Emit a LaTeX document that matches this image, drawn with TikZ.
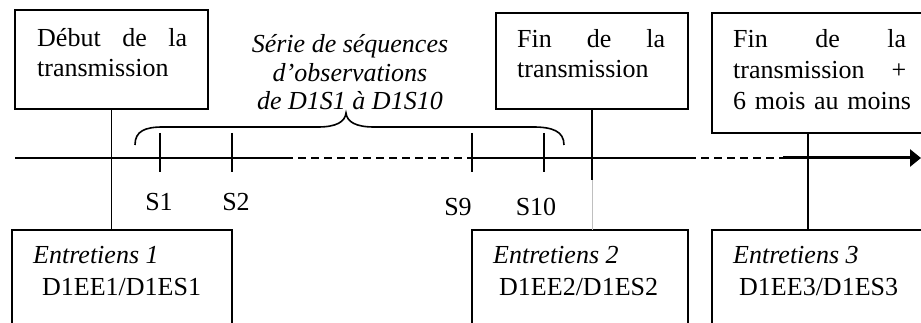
\documentclass[tikz,border=0pt]{standalone}
\usepackage{fontspec}
\setmainfont{Liberation Serif}
\usetikzlibrary{arrows.meta,calc}
\begin{document}
\begin{tikzpicture}[x=1pt,y=-1pt,
  frame/.style={draw,line width=1.6pt,inner sep=0pt,outer sep=0pt,anchor=north west},
  txt/.style={inner sep=0pt,anchor=base west,align=left},
  conn/.style={line width=1.6pt},
  tick/.style={line width=1.6pt},
  dashline/.style={line width=1.6pt,dash pattern=on 8pt off 5pt},
  lbl/.style={inner sep=0pt,anchor=base,font=\fontsize{26}{30}\selectfont}
]
\useasboundingbox (0,0) rectangle (921,323);

% frames
\node[frame,minimum width=193pt,minimum height=99pt] (top1) at (15,10) {};
\node[frame,minimum width=192pt,minimum height=96pt] (top2) at (496,13) {};
\node[frame,minimum width=212pt,minimum height=120pt] (top3) at (712,13) {};
\node[frame,minimum width=220pt,minimum height=100pt] (bot1) at (12,230) {};
\node[frame,minimum width=216pt,minimum height=100pt] (bot2) at (472,230) {};
\node[frame,minimum width=212pt,minimum height=100pt] (bot3) at (712,230) {};

% texts in top boxes
\node[txt,text width=150pt,font=\fontsize{26}{30}\selectfont] (t1) at (37,47) {Début\hfill de\hfill la\\transmission};
\node[txt,text width=148pt,font=\fontsize{26}{30}\selectfont] (t2) at (517,48) {Fin\hfill de\hfill la\\transmission};
\node[txt,text width=173pt,font=\fontsize{26}{31}\selectfont] (t3) at (733,48) {Fin\hfill de\hfill la\\transmission\hfill +\\\mbox{6 mois au moins}};

% series text
\node[inner sep=0pt,anchor=base,align=center,font=\fontsize{26}{28.5}\selectfont\itshape] (serie) at (350,110) {Série de séquences\\d’observations\\de D1S1 à D1S10};

% texts in bottom boxes
\node[txt,font=\fontsize{26}{32}\selectfont] (b1) at (33,295) {\textit{Entretiens 1}\\\hspace*{9pt}D1EE1/D1ES1};
\node[txt,font=\fontsize{26}{32}\selectfont] (b2) at (493,295) {\textit{Entretiens 2}\\\hspace*{6pt}D1EE2/D1ES2};
\node[txt,font=\fontsize{26}{32}\selectfont] (b3) at (733,295) {\textit{Entretiens 3}\\\hspace*{6pt}D1EE3/D1ES3};

% timeline
\coordinate (L0) at (15,158);
\coordinate (La) at (285,158);
\coordinate (Lb) at (472,158);
\coordinate (Lc) at (688,158);
\coordinate (Ld) at (783,158);
\coordinate (Le) at (921,158);
\draw[conn] (L0) -- (La);
\draw[dashline] (La) -- (Lb);
\draw[conn] (Lb) -- (Lc);
\draw[dashline] (Lc) -- (Ld);
\draw[line width=3pt,-{Triangle[length=11pt,width=17pt]}] (Ld) -- (Le);

% ticks
\foreach \n/\x in {s1/160,s2/232,s9/472,s10/544}{
  \coordinate (\n top) at (\x,133);
  \coordinate (\n bot) at (\x,172);
  \draw[tick] (\n top) -- (\n bot);
}
\node[lbl] (S1) at (159,211) {S1};
\node[lbl] (S2) at (236,211) {S2};
\node[lbl] (S9) at (458,215) {S9};
\node[lbl] (S10) at (536,215) {S10};

% brace
\draw[line width=1.6pt] (135,145) .. controls (135,131) and (145,127) .. (163,127)
  -- (318,127) .. controls (336,127) and (345,122) .. (346,113)
  .. controls (347,122) and (356,127) .. (374,127)
  -- (533,127) .. controls (552,127) and (564,131) .. (564,145);

% connectors
\draw[conn] (top1.south) -- (top1.south |- bot1.north);
\coordinate (cut) at (592,180);
\draw[conn] (top2.south) -- (cut);
\draw[gray!50,line width=0.6pt] (cut) -- (cut |- bot2.north);
\draw[conn] ($(top3.south west)+(96,0)$) -- ($(bot3.north west)+(96,0)$);
\end{tikzpicture}
\end{document}
